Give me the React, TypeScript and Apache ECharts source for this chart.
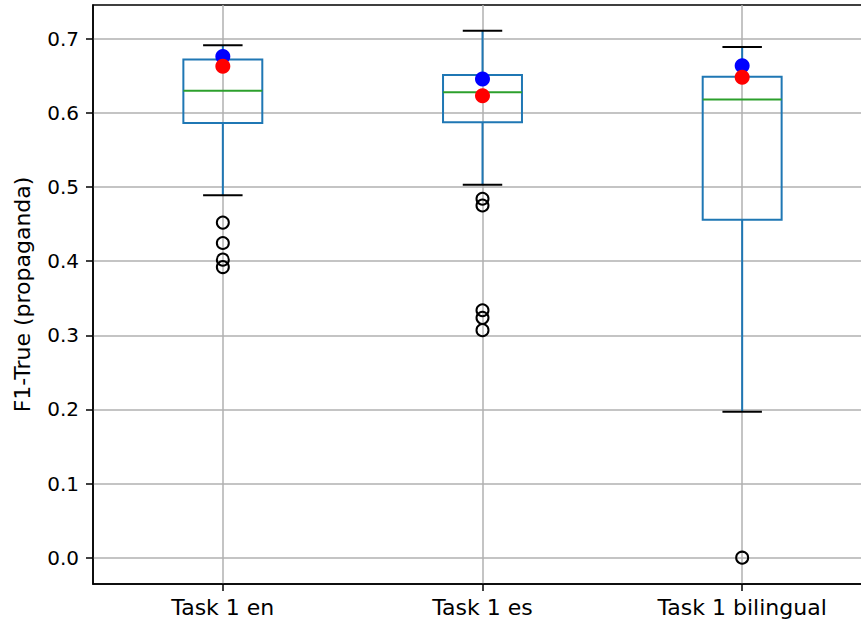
import React, { useEffect, useRef } from "react";
import * as echarts from "echarts";

const categories = ["Task 1 en", "Task 1 es", "Task 1 bilingual"];
// [whiskerLow, q1, median, q3, whiskerHigh]
const whiskerLow = [0.489, 0.503, 0.197];
const q1 = [0.5865, 0.5873, 0.4559];
const median = [0.63, 0.6277, 0.6179];
const q3 = [0.6721, 0.651, 0.6488];
const whiskerHigh = [0.6912, 0.7107, 0.689];
const outliers: [string, number][] = [
  ["Task 1 en", 0.452],
  ["Task 1 en", 0.4245],
  ["Task 1 en", 0.402],
  ["Task 1 en", 0.392],
  ["Task 1 es", 0.4842],
  ["Task 1 es", 0.4751],
  ["Task 1 es", 0.3338],
  ["Task 1 es", 0.3235],
  ["Task 1 es", 0.3069],
  ["Task 1 bilingual", 0.0],
];
const blueDots = [0.676, 0.6457, 0.6636];
const redDots = [0.663, 0.6232, 0.648];
const yTicks = [0, 0.1, 0.2, 0.3, 0.4, 0.5, 0.6, 0.7];

const FONT = "DejaVu Sans";

export default function App() {
  const ref = useRef<HTMLDivElement>(null);
  useEffect(() => {
    if (!ref.current) return;
    const chart = echarts.init(ref.current, null, { renderer: "svg" });
    const boxData = categories.map((c, i) => [
      i,
      whiskerLow[i],
      q1[i],
      median[i],
      q3[i],
      whiskerHigh[i],
    ]);
    chart.setOption({
      animation: false,
      grid: {
        left: 93,
        top: 5,
        width: 779,
        height: 579,
        show: true,
        borderColor: "#000",
        borderWidth: 1.5,
        backgroundColor: "transparent",
        containLabel: false,
        outerBoundsMode: "none",
      },
      xAxis: {
        type: "category",
        data: categories,
        boundaryGap: true,
        axisLine: { show: true, onZero: false, lineStyle: { color: "#000", width: 1.5 } },
        axisTick: {
          show: true,
          alignWithLabel: true,
          length: 7,
          lineStyle: { color: "#000", width: 1.5 },
        },
        axisLabel: {
          color: "#000",
          fontFamily: FONT,
          fontSize: 22,
          margin: 12,
        },
        splitLine: {
          show: true,
          alignWithLabel: true,
          lineStyle: { color: "#b0b0b0", width: 1.5 },
        },
      },
      yAxis: {
        type: "value",
        min: -0.0355,
        max: 0.7455,
        splitNumber: 8,
        name: "F1-True (propaganda)",
        nameLocation: "middle",
        nameGap: 60,
        nameTextStyle: { color: "#000", fontFamily: FONT, fontSize: 22 },
        axisLine: { show: true, lineStyle: { color: "#000", width: 1.5 } },
        axisTick: {
          show: true,
          length: 7,
          customValues: yTicks,
          lineStyle: { color: "#000", width: 1.5 },
        },
        axisLabel: {
          customValues: yTicks,
          color: "#000",
          fontFamily: FONT,
          fontSize: 20,
          margin: 14,
          formatter: (v: number) => v.toFixed(1),
        },
        splitLine: { show: true, lineStyle: { color: "#b0b0b0", width: 1.5 } },
      },
      series: [
        {
          type: "custom",
          data: boxData,
          encode: { x: 0, y: [1, 2, 3, 4, 5] },
          renderItem: (params: any, api: any) => {
            const i = api.value(0);
            const lo = api.coord([i, api.value(1)]);
            const b1 = api.coord([i, api.value(2)]);
            const md = api.coord([i, api.value(3)]);
            const b3 = api.coord([i, api.value(4)]);
            const hi = api.coord([i, api.value(5)]);
            const band = api.size([1, 0])[0];
            const bw = band * 0.304;
            const cw = bw / 2;
            const cx = lo[0];
            const blue = "#1f77b4";
            return {
              type: "group",
              children: [
                {
                  type: "line",
                  shape: { x1: cx, y1: b1[1], x2: cx, y2: lo[1] },
                  style: { stroke: blue, lineWidth: 2 },
                },
                {
                  type: "line",
                  shape: { x1: cx, y1: b3[1], x2: cx, y2: hi[1] },
                  style: { stroke: blue, lineWidth: 2 },
                },
                {
                  type: "line",
                  shape: { x1: cx - cw / 2, y1: lo[1], x2: cx + cw / 2, y2: lo[1] },
                  style: { stroke: "#000", lineWidth: 2 },
                },
                {
                  type: "line",
                  shape: { x1: cx - cw / 2, y1: hi[1], x2: cx + cw / 2, y2: hi[1] },
                  style: { stroke: "#000", lineWidth: 2 },
                },
                {
                  type: "rect",
                  shape: { x: cx - bw / 2, y: b3[1], width: bw, height: b1[1] - b3[1] },
                  style: { fill: "none", stroke: blue, lineWidth: 2 },
                },
                {
                  type: "line",
                  shape: { x1: cx - bw / 2, y1: md[1], x2: cx + bw / 2, y2: md[1] },
                  style: { stroke: "#2ca02c", lineWidth: 2 },
                },
              ],
            };
          },
          z: 3,
        },
        {
          type: "scatter",
          data: outliers,
          symbol: "circle",
          symbolSize: 12,
          itemStyle: { color: "rgba(0,0,0,0)", borderColor: "#000", borderWidth: 2, opacity: 1 },
          z: 4,
        },
        {
          type: "scatter",
          data: categories.map((c, i) => [c, blueDots[i]]),
          symbol: "circle",
          symbolSize: 15,
          itemStyle: { color: "#0000ff", opacity: 1 },
          z: 5,
        },
        {
          type: "scatter",
          data: categories.map((c, i) => [c, redDots[i]]),
          symbol: "circle",
          symbolSize: 15,
          itemStyle: { color: "#ff0000", opacity: 1 },
          z: 6,
        },
      ],
    });
    return () => chart.dispose();
  }, []);
  return (
    <div
      ref={ref}
      style={{ position: "absolute", left: 0, top: 0, width: 861, height: 623 }}
    />
  );
}
